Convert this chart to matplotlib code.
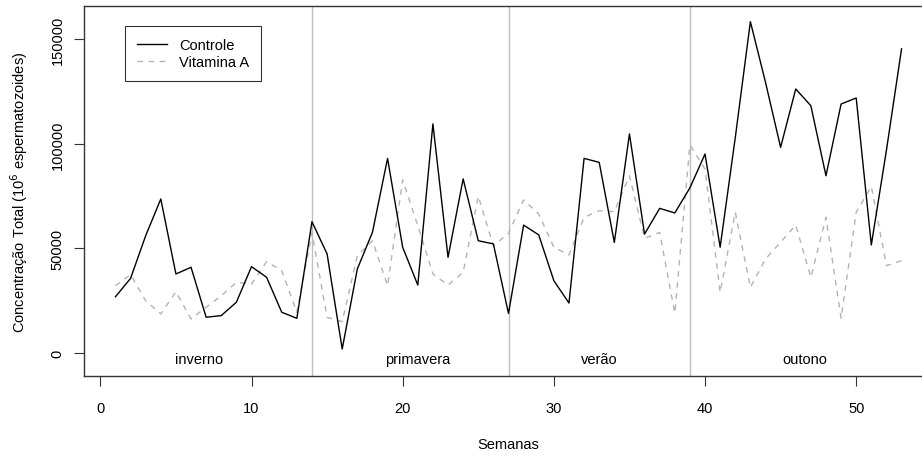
import matplotlib
matplotlib.use("Agg")
import matplotlib.pyplot as plt

plt.rcParams['font.family'] = ['Liberation Sans', 'DejaVu Sans']

semanas = list(range(1, 54))
controle = [26900, 35700, 56100, 73700, 37800, 41000, 17100, 17900, 24300, 41300,
            36200, 19500, 16600, 62800, 47400, 1900, 40200, 57700, 93100, 50600,
            32500, 109600, 45800, 83300, 53700, 52200, 18900, 61200, 56500, 34600,
            23900, 93100, 91200, 52900, 104800, 56900, 69200, 67000, 79000, 95200,
            50600, 103000, 158500, 129500, 98400, 126300, 118300, 84800, 119100, 122000,
            51700, 97000, 145500]
vitamina_a = [32200, 37500, 25000, 18700, 29300, 16300, 21900, 27400, 33800, 33000,
              43700, 39400, 19500, 57500, 17100, 15000, 46600, 53700, 32200, 82800,
              60900, 37800, 32500, 38600, 75000, 51300, 57300, 73200, 66500, 50600,
              46900, 64900, 68100, 67600, 84800, 54900, 57700, 19100, 99500, 88000,
              29000, 67300, 31400, 45000, 53000, 61200, 36200, 64900, 16600, 67300,
              79700, 41800, 44200]
estacoes = ["inverno", "primavera", "verão", "outono"]
estacao_pos = [6.5, 21.0, 33.0, 46.6]
divisoes = [14, 27, 39]
xticks = [0, 10, 20, 30, 40, 50]
yticks = [0, 50000, 100000, 150000]

FS = 10.5
W, H = 922, 460
fig = plt.figure(figsize=(W / 100, H / 100), dpi=100)
left_px, right_px, top_px, bot_px = 84, 933, 7, 377
ax = fig.add_axes([left_px / W, 1 - bot_px / H, (right_px - left_px) / W, (bot_px - top_px) / H])

for d in divisoes:
    ax.axvline(d, color='#bebebe', lw=1.0, zorder=1)

ax.plot(semanas, controle, color='black', lw=1.0, label='Controle', zorder=3)
ax.plot(semanas, vitamina_a, color='#b3b3b3', lw=1.0, linestyle=(0, (4, 4)),
        label='Vitamina A', zorder=2)

for nome, pos in zip(estacoes, estacao_pos):
    ax.text(pos, -3000, nome, ha='center', va='center', fontsize=FS)

ax.set_xlim(-1.08, 55.08)
ax.set_ylim(-11000, 166000)
ax.set_xticks(xticks)
ax.set_yticks(yticks)
ax.set_xticklabels([str(t) for t in xticks], fontsize=FS)
ax.set_yticklabels([str(t) for t in yticks], fontsize=FS, rotation=90, va='center')
ax.tick_params(axis='x', direction='out', length=7, width=0.8, color='#333333', pad=11)
ax.tick_params(axis='y', direction='out', length=7, width=0.8, color='#333333', pad=7)
for s in ax.spines.values():
    s.set_color('#333333')
    s.set_linewidth(1.0)

ax.set_xlabel('Semanas', fontsize=FS, labelpad=16)
ax.set_ylabel('Concentração Total (10$^6$ espermatozoides)', fontsize=FS, labelpad=15)

leg = ax.legend(loc='upper left',
                bbox_to_anchor=((125 - left_px) / (right_px - left_px), 1 - (27 - top_px) / (bot_px - top_px)),
                fontsize=FS, frameon=True, fancybox=False, handlelength=2.05, borderpad=0.8,
                labelspacing=0.25, handletextpad=0.85, borderaxespad=0)
leg.get_frame().set_edgecolor('black')
leg.get_frame().set_linewidth(0.8)

fig.savefig('out.png', dpi=100)
